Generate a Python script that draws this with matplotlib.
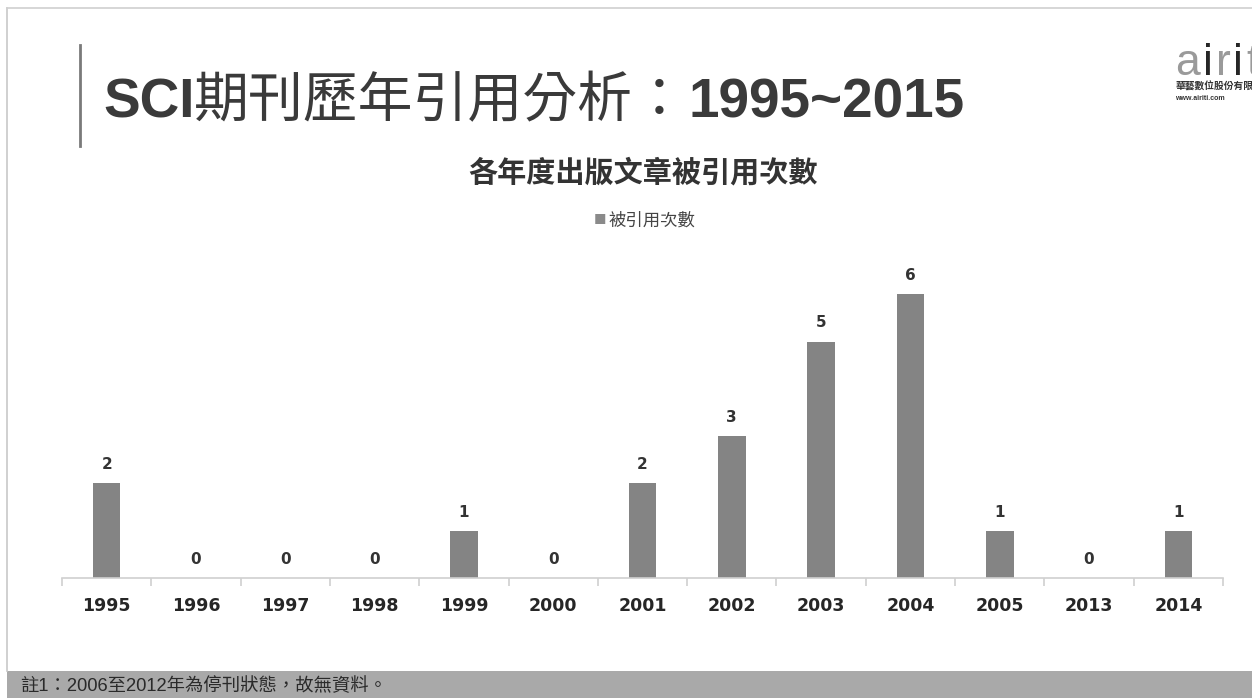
import matplotlib
matplotlib.use("Agg")
import matplotlib.pyplot as plt
from matplotlib.patches import Rectangle
from matplotlib.lines import Line2D

years = ["1995", "1996", "1997", "1998", "1999", "2000", "2001", "2002", "2003", "2004", "2005", "2013", "2014"]
citations = [2, 0, 0, 0, 1, 0, 2, 3, 5, 6, 1, 0, 1]
series_name = "被引用次數"
title_parts = ["SCI", "期刊歷年引用分析：", "1995~2015"]
chart_title = "各年度出版文章被引用次數"
footnote = "註1：2006至2012年為停刊狀態，故無資料。"

W, H = 1252, 698
fig = plt.figure(figsize=(W / 100, H / 100), dpi=100)
fig.patch.set_facecolor("white")

LAT = ["Liberation Sans", "DejaVu Sans"]
CJK = ["Noto Sans CJK TC", "DejaVu Sans"]
MIX = ["Liberation Sans", "Noto Sans CJK TC", "DejaVu Sans"]

def fx(x):
    return x / W

def fy(y):
    return 1 - y / H

# slide frame lines
fig.add_artist(Line2D([fx(7), fx(7)], [fy(8), fy(671)], color="#c8c8c8", lw=1.2))
fig.add_artist(Line2D([fx(7), fx(1252)], [fy(8), fy(8)], color="#d0d0d0", lw=1.2))
# footer band
fig.add_artist(Rectangle((fx(7), 0), 1 - fx(7), fy(671), color="#a9a9a9", lw=0))
fig.text(fx(20), fy(686), footnote, fontsize=13.2, family=MIX, color="#2a2a2a", va="center", ha="left")

# title accent line
fig.add_artist(Line2D([fx(80), fx(80)], [fy(45), fy(146)], color="#7a7a7a", lw=2))

renderer = fig.canvas.get_renderer()
title_base = 117
xcur = 103
styles = [dict(family=LAT, fontweight="bold"), dict(family=CJK, fontweight="normal"), dict(family=LAT, fontweight="bold")]
for part, st in zip(title_parts, styles):
    t = fig.text(fx(xcur), fy(title_base), part, fontsize=39.5, color="#3a3a3a", va="baseline", ha="left", **st)
    bb = t.get_window_extent(renderer=renderer)
    xcur += bb.width

# logo
xl = 1175
for ch in "airiti":
    col = "#262626" if ch == "i" else "#9a9a9a"
    t = fig.text(fx(xl), fy(75), ch, fontsize=32, family=LAT, color=col, va="baseline", ha="left")
    xl += t.get_window_extent(renderer=renderer).width + 3
fig.text(fx(1175), fy(87), "華藝數位股份有限公司", fontsize=7, family=CJK, color="#333333", fontweight="bold", va="center", ha="left")
fig.text(fx(1175), fy(98), "www.airiti.com", fontsize=5, family=LAT, color="#333333", fontweight="bold", va="center", ha="left")

# chart title and legend
fig.text(fx(643), fy(172), chart_title, fontsize=21, fontweight="bold", family=CJK, color="#333333", va="center", ha="center")
fig.text(fx(600), fy(221), "■", fontsize=9, family=CJK, color="#8a8a8a", va="center", ha="center")
fig.text(fx(608), fy(221), series_name, fontsize=12.5, family=CJK, color="#444444", va="center", ha="left")

# axes
ymax = 6.6
px_per_unit = 47.3
left, right, base = 62, 1223, 578
top = base - ymax * px_per_unit
ax = fig.add_axes([fx(left), fy(base), fx(right) - fx(left), (base - top) / H])
ax.set_facecolor("none")
x = list(range(len(years)))
ax.bar(x, citations, width=0.31, color="#848484", zorder=2)
ax.set_xlim(-0.5, len(years) - 0.5)
ax.set_ylim(0, ymax)
for s in ["top", "right", "left"]:
    ax.spines[s].set_visible(False)
ax.spines["bottom"].set_color("#d0d0d0")
ax.spines["bottom"].set_linewidth(1.2)
ax.set_yticks([])
ax.set_xticks([i - 0.5 for i in range(len(years) + 1)], minor=False)
ax.set_xticklabels([])
ax.tick_params(axis="x", which="major", length=6, color="#d0d0d0", width=1.2, direction="out")
ax.set_xticks(x, minor=True)
ax.set_xticklabels(years, minor=True, fontsize=12.5, fontweight="bold", color="#262626", family=["DejaVu Sans"])
ax.tick_params(axis="x", which="minor", length=0, pad=14)
for xi, v in zip(x, citations):
    ax.annotate(str(v), (xi, v), xytext=(0, 8), textcoords="offset points", ha="center", va="bottom",
                fontsize=11, fontweight="bold", color="#333333")

fig.savefig("out.png", dpi=100, facecolor="white")
